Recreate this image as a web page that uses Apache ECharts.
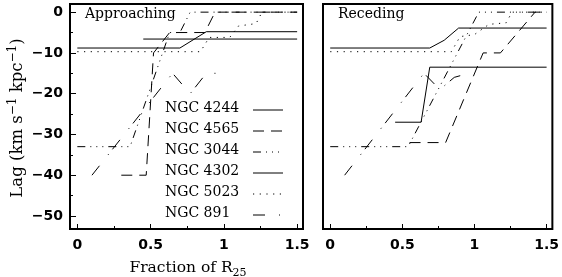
<!DOCTYPE html>
<html>
<head>
<meta charset="utf-8">
<script src="https://cdn.jsdelivr.net/npm/echarts@6/dist/echarts.min.js"></script>
<style>
  html, body { margin: 0; padding: 0; background: #fff; }
  #chart { width: 562px; height: 277px; }
</style>
</head>
<body>
<div id="chart"></div>
<script>
// galaxy names, in legend order
const galaxies = ['NGC 4244', 'NGC 4565', 'NGC 3044', 'NGC 4302', 'NGC 5023', 'NGC 891']

// approaching side: [fraction of R25, lag]
const app4244 = [[0, -8.8], [0.7, -8.8], [0.88, -4.8], [1.5, -4.8]]
const app4565 = [[0.3, -40], [0.47, -40], [0.52, -10], [0.63, -5], [0.87, -5], [0.94, 0], [1.5, 0]]
const app3044 = [[0, -33], [0.36, -33], [0.63, -5], [0.7, -5], [0.77, 0], [1.5, 0]]
const app4302 = [[0.45, -6.6], [1.5, -6.6]]
const app5023 = [[0, -9.7], [0.84, -9.7], [0.9, -6.2], [1.04, -6.2], [1.1, -3.4], [1.22, -2.8], [1.26, 0], [1.5, 0]]
const app891 = [[0.1, -40], [0.65, -15], [0.77, -20], [0.88, -15], [0.96, -15]]

// receding side
const rec4244 = [[0, -8.8], [0.69, -8.8], [0.79, -6.9], [0.89, -3.9], [1.5, -3.9]]
const rec4565 = [[0.55, -32], [0.8, -32], [1.06, -10], [1.18, -10], [1.42, 0], [1.5, 0]]
const rec3044 = [[0, -33], [0.54, -33], [1.03, 0], [1.5, 0]]
const rec4302 = [[0.45, -27], [0.63, -27], [0.69, -13.5], [1.5, -13.5]]
const rec5023 = [[0, -9.7], [0.84, -9.7], [0.9, -6], [1.0, -5.5], [1.1, -3], [1.22, -2.6], [1.26, 0], [1.5, 0]]
const rec891 = [[0.1, -40], [0.65, -15], [0.76, -19], [0.86, -16], [0.96, -15]]

// tick values
const xMajor = [0, 0.5, 1, 1.5]
const xMinor = [0.25, 0.75, 1.25]
const yMajor = [0, -10, -20, -30, -40, -50]
const yMinor = [-5, -15, -25, -35, -45]

const approaching = [app4244, app4565, app3044, app4302, app5023, app891]
const receding = [rec4244, rec4565, rec3044, rec4302, rec5023, rec891]

const dashes = ['solid', [11, 7], [8, 5, 1, 5, 1, 5, 1, 5], 'solid', [1.2, 5.5], [12, 14, 1, 6]]

const labelFont = { fontFamily: 'DejaVu Sans', fontWeight: 'bold', fontSize: 14, color: '#000' }
const serif = 'DejaVu Serif'

function xAxes (grid, major) {
  return {
    gridIndex: grid,
    type: 'value',
    position: 'bottom',
    min: -0.05,
    max: 1.54,
    axisLine: { show: false, onZero: false },
    splitLine: { show: false },
    axisTick: {
      inside: true,
      length: major ? 5 : 3,
      lineStyle: { color: '#000', width: 1 },
      customValues: major ? xMajor : xMinor
    },
    axisLabel: major
      ? Object.assign({ margin: 9, customValues: xMajor }, labelFont)
      : { show: false }
  }
}

function yAxes (grid, major, ticks) {
  return {
    gridIndex: grid,
    type: 'value',
    position: 'left',
    min: -53.2,
    max: 2,
    axisLine: { show: false, onZero: false },
    splitLine: { show: false },
    axisTick: {
      show: ticks,
      inside: true,
      length: major ? 6 : 3,
      lineStyle: { color: '#000', width: 1 },
      customValues: major ? yMajor : yMinor
    },
    axisLabel: major && ticks
      ? Object.assign({
          margin: 7,
          customValues: yMajor,
          formatter: v => v === 0 ? '0' : '\u2212' + Math.abs(v)
        }, labelFont)
      : { show: false }
  }
}

const series = []
galaxies.forEach((name, i) => {
  [approaching, receding].forEach((side, g) => {
    series.push({
      name: name,
      type: 'line',
      xAxisIndex: g * 2,
      yAxisIndex: g * 2,
      data: side[i],
      symbol: 'none',
      silent: true,
      animation: false,
      lineStyle: { color: '#000', width: 1, type: dashes[i] }
    })
  })
})

// legend drawn by hand: text left, line sample right
const legendItems = []
galaxies.forEach((name, i) => {
  const y = 109 + i * 21
  legendItems.push({
    type: 'text',
    left: 165,
    top: y - 8,
    style: { text: name, font: '14px "' + serif + '"', fill: '#000' }
  })
  legendItems.push({
    type: 'line',
    shape: { x1: 253, y1: y + 1, x2: 283, y2: y + 1 },
    style: {
      stroke: '#000',
      lineWidth: 1,
      lineDash: Array.isArray(dashes[i]) ? dashes[i] : null
    }
  })
})

const xScript = {
  sub: { fontFamily: serif, fontSize: 11, lineHeight: 10, verticalAlign: 'bottom' },
  n: { fontFamily: serif, fontSize: 15.5, lineHeight: 21 }
}
const yScript = {
  sup: { fontFamily: serif, fontSize: 12, lineHeight: 11, verticalAlign: 'top' },
  n: { fontFamily: serif, fontSize: 16.5, lineHeight: 22 }
}

const chart = echarts.init(document.getElementById('chart'))
chart.setOption({
  animation: false,
  backgroundColor: '#fff',
  grid: [
    { left: 70, top: 4, width: 233, height: 225, show: true, borderColor: '#000', borderWidth: 2 },
    { left: 323, top: 4, width: 235, height: 225, show: true, borderColor: '#000', borderWidth: 2 }
  ],
  xAxis: [xAxes(0, true), xAxes(0, false), xAxes(1, true), xAxes(1, false)],
  yAxis: [yAxes(0, true, true), yAxes(0, false, true), yAxes(1, true, false), yAxes(1, false, false)],
  series: series,
  graphic: [
    {
      type: 'text',
      left: 85,
      top: 7,
      style: { text: 'Approaching', font: '14px "' + serif + '"', fill: '#000' }
    },
    {
      type: 'text',
      left: 338,
      top: 7,
      style: { text: 'Receding', font: '14px "' + serif + '"', fill: '#000' }
    },
    {
      type: 'text',
      x: 188,
      y: 268,
      style: {
        text: '{n|Fraction of R}{sub|25}',
        rich: xScript,
        fill: '#000',
        align: 'center',
        verticalAlign: 'middle'
      }
    },
    {
      type: 'text',
      x: 18,
      y: 118,
      rotation: Math.PI / 2,
      style: {
        text: '{n|Lag (km s}{sup|\u22121}{n| kpc}{sup|\u22121}{n|)}',
        rich: yScript,
        fill: '#000',
        align: 'center',
        verticalAlign: 'middle'
      }
    }
  ].concat(legendItems)
})
</script>
</body>
</html>
